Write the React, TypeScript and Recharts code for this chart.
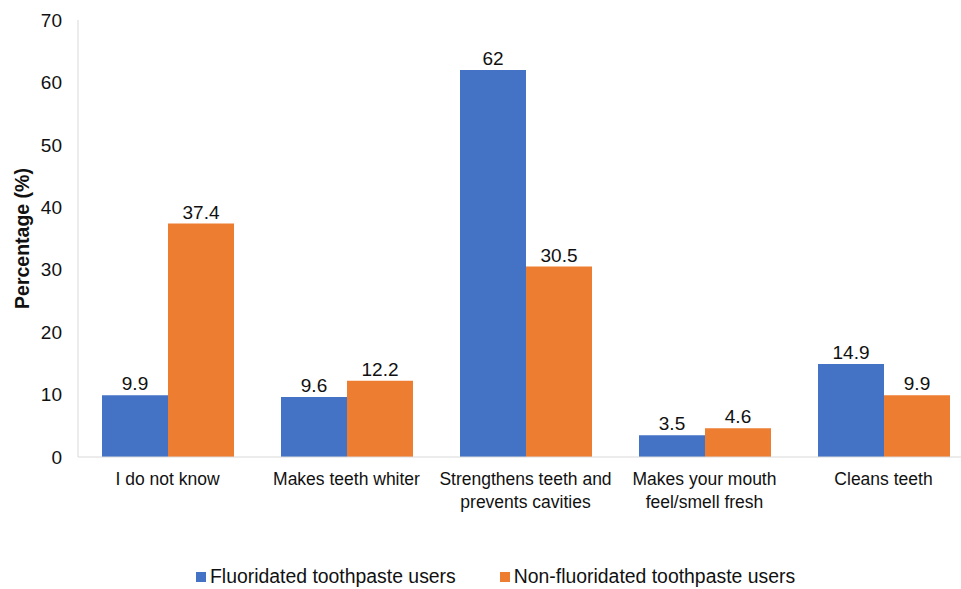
import React from "react";
import { BarChart, Bar, XAxis, YAxis, LabelList } from "recharts";

// Perceived benefit of toothpaste, by user group (%)
const categories = [
  "I do not know",
  "Makes teeth whiter",
  "Strengthens teeth and\nprevents cavities",
  "Makes your mouth\nfeel/smell fresh",
  "Cleans teeth",
];
const fluoridatedUsers = [9.9, 9.6, 62, 3.5, 14.9];
const nonFluoridatedUsers = [37.4, 12.2, 30.5, 4.6, 9.9];
const yTicks = [0, 10, 20, 30, 40, 50, 60, 70];

const series = [
  { key: "fluoridated", name: "Fluoridated toothpaste users", color: "#4472C4" },
  { key: "nonFluoridated", name: "Non-fluoridated toothpaste users", color: "#ED7D31" },
];

const data = categories.map((c, i) => ({
  category: c,
  fluoridated: fluoridatedUsers[i],
  nonFluoridated: nonFluoridatedUsers[i],
}));

const FONT = '"Liberation Sans", Arial, sans-serif';
const AXIS_COLOR = "#d9d9d9";

const CategoryTick = (props: any) => {
  const { x, y, payload } = props;
  const lines = String(payload.value).split("\n");
  return (
    <text x={x} y={y} textAnchor="middle" fontSize={17.5} fontFamily={FONT} fill="#111">
      {lines.map((line, i) => (
        <tspan key={i} x={x} dy={i === 0 ? "0.71em" : 22.5}>
          {line}
        </tspan>
      ))}
    </text>
  );
};

export default function App() {
  return (
    <div
      style={{
        position: "absolute",
        left: 0,
        top: 0,
        width: 961,
        height: 589,
        overflow: "hidden",
        background: "#fff",
        fontFamily: FONT,
      }}
    >
      <BarChart
        width={981}
        height={589}
        data={data}
        margin={{ top: 20, right: 8, left: 0, bottom: 72 }}
        barCategoryGap={24}
        barGap={0}
      >
        <XAxis
          dataKey="category"
          stroke={AXIS_COLOR}
          tickLine={false}
          tickSize={6}
          tickMargin={10}
          height={60}
          interval={0}
          tick={<CategoryTick />}
        />
        <YAxis
          width={78}
          domain={[0, 70]}
          ticks={yTicks}
          stroke={AXIS_COLOR}
          tickLine={false}
          tickSize={6}
          tickMargin={10}
          tick={{ fill: "#111", fontSize: 19, fontFamily: FONT }}
          label={{
            value: "Percentage (%)",
            angle: -90,
            position: "insideLeft",
            offset: 22,
            style: { textAnchor: "middle", fontWeight: 700, fontSize: 19.5, fill: "#111", fontFamily: FONT },
          }}
        />
        {series.map((s) => (
          <Bar key={s.key} dataKey={s.key} name={s.name} fill={s.color} isAnimationActive={false}>
            <LabelList
              dataKey={s.key}
              position="top"
              offset={5}
              style={{ fill: "#111", fontSize: 19, fontFamily: FONT }}
            />
          </Bar>
        ))}
      </BarChart>
      <div
        style={{
          position: "absolute",
          left: 196,
          top: 565,
          display: "flex",
          alignItems: "center",
          fontSize: 19.4,
          color: "#111",
          whiteSpace: "nowrap",
        }}
      >
        {series.map((s, i) => (
          <div key={s.key} style={{ display: "flex", alignItems: "center", marginLeft: i === 0 ? 0 : 44 }}>
            <span style={{ display: "inline-block", width: 10, height: 10, background: s.color, marginRight: 4 }} />
            <span>{s.name}</span>
          </div>
        ))}
      </div>
    </div>
  );
}
